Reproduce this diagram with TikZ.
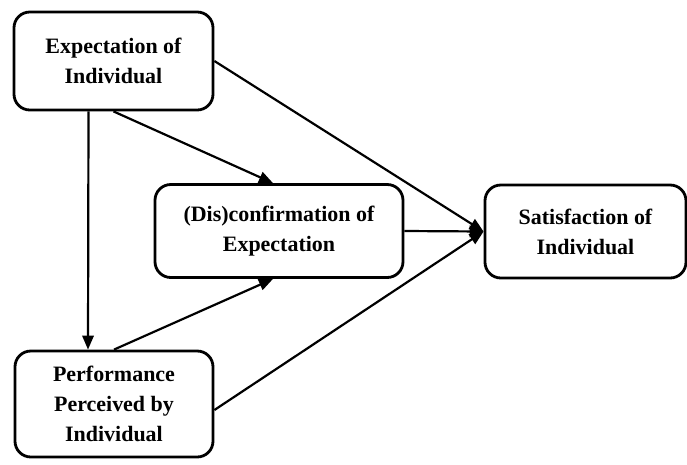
\documentclass[tikz,border=0pt]{standalone}
\usepackage{fontspec}
\setmainfont{Liberation Serif}
\usepackage{tikz}
\usetikzlibrary{calc,arrows.meta}

\begin{document}
\begin{tikzpicture}[x=0.02cm, y=-0.02cm,
        box/.style={draw, line width=1.6pt, rounded corners=9pt, align=center,
                    font=\fontsize{12.5}{17}\selectfont\bfseries},
        arr/.style={line width=1.25pt, -{Triangle[length=8pt,width=6.5pt]}}]
        \useasboundingbox (0,0) rectangle (687,464);

        % Expectation
        \node[box, minimum width=199*0.02cm, minimum height=98*0.02cm] (Expectation) at (113.5,61) {Expectation of\\Individual};

        % (Dis)confirmation
        \node[box, minimum width=248*0.02cm, minimum height=93*0.02cm] (Disconfirmation) at (279,231) {(Dis)confirmation of\\Expectation};

        % Satisfaction
        \node[box, minimum width=201*0.02cm, minimum height=93*0.02cm] (Satisfaction) at (585.5,231.5) {Satisfaction of\\Individual};

        % Performance
        \node[box, minimum width=198*0.02cm, minimum height=106*0.02cm] (Performance) at (114,404) {Performance\\Perceived by\\Individual};

        \draw[arr] ($(Expectation.south)+(-25,0)$) -- ($(Performance.north)+(-26,0)$);
        \draw[arr] (Expectation.south) -- ($(Disconfirmation.north)+(-6,0)$);
        \draw[arr] (Performance.north) -- ($(Disconfirmation.south)+(-6,0)$);
        \draw[arr] (Expectation.east) -- (Satisfaction.west);
        \draw[arr] (Disconfirmation.east) -- (Satisfaction.west);
        \draw[arr] ($(Performance.east)+(0,6)$) -- (Satisfaction.west);

      \end{tikzpicture}
\end{document}
